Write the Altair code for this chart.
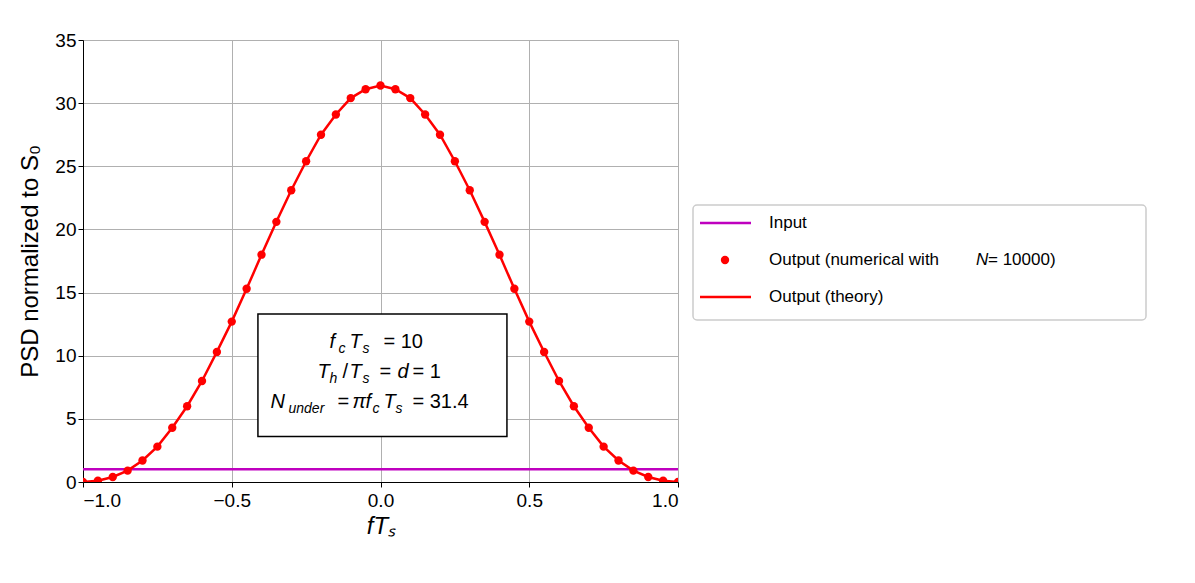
import altair as alt
import pandas as pd

f_vals = [round(-1 + 0.05 * i, 2) for i in range(41)]
half = [31.4, 31.1, 30.4, 29.1, 27.5, 25.4, 23.1, 20.6, 18.0, 15.3, 12.7,
        10.3, 8.0, 6.0, 4.3, 2.8, 1.7, 0.9, 0.4, 0.1, 0.0]
psd_vals = half[::-1] + half[1:]
input_level = 1.0

df = pd.DataFrame({"f": f_vals, "psd": psd_vals})
dinp = pd.DataFrame({"f": [-1.0, 1.0], "psd": [input_level, input_level]})

W, H = 595, 442
xs = alt.Scale(domain=[-1, 1], nice=False)
ys = alt.Scale(domain=[0, 35], nice=False)
FONT = "Liberation Sans"

xax = alt.Axis(values=[-1, -0.5, 0, 0.5, 1], format=".1f", title="fTₛ",
               titleFontStyle="italic", titleFontWeight="normal", titleFontSize=24,
               labelFontSize=19, gridColor="#b0b0b0", tickColor="black",
               domainColor="black", labelColor="black", titleColor="black", labelPadding=4)
yax = alt.Axis(values=list(range(0, 36, 5)), title="PSD normalized to S₀",
               titleFontWeight="normal", titleFontSize=24, labelFontSize=19,
               gridColor="#b0b0b0", tickColor="black", domainColor="black",
               labelColor="black", titleColor="black", titlePadding=12)

base = alt.Chart(df)
inp = alt.Chart(dinp).mark_line(color="#bf00bf", strokeWidth=2.5, clip=True).encode(
    x=alt.X("f:Q", scale=xs, axis=xax), y=alt.Y("psd:Q", scale=ys, axis=yax))
line = base.mark_line(color="red", strokeWidth=2.5, clip=True).encode(x=alt.X("f:Q", scale=xs), y=alt.Y("psd:Q", scale=ys))
pts = base.mark_circle(color="red", size=70, opacity=1, clip=True).encode(x=alt.X("f:Q", scale=xs), y=alt.Y("psd:Q", scale=ys))

box = alt.Chart(pd.DataFrame({"x": [-0.412], "x2": [0.425], "y": [3.6], "y2": [13.3]})).mark_rect(
    fill="white", stroke="black", strokeWidth=1.5).encode(x="x:Q", x2="x2:Q", y="y:Q", y2="y2:Q")

# text pieces: (text, dx, baseline y, subscript?)
pieces = [
    ("f", -51, 10.61, False), ("c", -42, 10.61, True), ("T", -31, 10.61, False), ("s", -18, 10.61, True), ("=  10", 3, 10.61, False),
    ("T", -63, 8.23, False), ("h", -51, 8.23, True), ("/", -38, 8.23, False), ("T", -31, 8.23, False), ("s", -18, 8.23, True),
    ("=", -1, 8.23, False), ("d", 17, 8.23, False), ("=  1", 32, 8.23, False),
    ("N", -110, 5.86, False), ("under", -92, 5.86, True), ("=", -43, 5.86, False), ("π", -28, 5.86, False), ("f", -15, 5.86, False),
    ("c", -8, 5.86, True), ("T", 3, 5.86, False), ("s", 15, 5.86, True), ("=  31.4", 32, 5.86, False),
]
txt_layers = []
for t, dx, yb, sub in pieces:
    italic = t not in ("=  10", "=  1", "=  31.4", "=", "/")
    txt_layers.append(alt.Chart(pd.DataFrame({"x": [0.0], "y": [yb], "t": [t]})).mark_text(
        align="left", baseline="alphabetic", dx=dx, dy=5 if sub else 0,
        fontSize=14 if sub else 20, font=FONT, fontStyle="italic" if italic else "normal", color="black"
    ).encode(x=alt.X("x:Q", scale=xs), y=alt.Y("y:Q", scale=ys), text="t:N"))

main = alt.layer(inp, line, pts, box, *txt_layers).properties(width=W, height=H)

# legend panel
LW = 470
lx = alt.Scale(domain=[0, LW], nice=False)
ly = alt.Scale(domain=[H, 0], nice=False)
lrect = alt.Chart(pd.DataFrame({"x": [8], "x2": [461], "y": [165], "y2": [280]})).mark_rect(
    fill="white", stroke="#cccccc", strokeWidth=1.5, cornerRadius=4).encode(
    x=alt.X("x:Q", scale=lx, axis=None), x2="x2:Q", y=alt.Y("y:Q", scale=ly, axis=None), y2="y2:Q")
leg_lines = pd.DataFrame({"x": [15, 15], "x2": [66, 66], "y": [183, 257], "c": ["#bf00bf", "red"]})
lline = alt.Chart(leg_lines).mark_rule(strokeWidth=2.5).encode(
    x=alt.X("x:Q", scale=lx, axis=None), x2="x2:Q", y=alt.Y("y:Q", scale=ly, axis=None),
    color=alt.Color("c:N", scale=None))
ldot = alt.Chart(pd.DataFrame({"x": [40], "y": [220]})).mark_circle(color="red", size=70, opacity=1).encode(
    x=alt.X("x:Q", scale=lx, axis=None), y=alt.Y("y:Q", scale=ly, axis=None))
leg_txt = pd.DataFrame({
    "x": [84, 84, 303, 84],
    "y": [183, 220, 220, 257],
    "t": ["Input", "Output (numerical with", "=  10000)", "Output (theory)"],
})
ltxt = alt.Chart(leg_txt).mark_text(align="left", baseline="middle", fontSize=17, font=FONT, color="black").encode(
    x=alt.X("x:Q", scale=lx, axis=None), y=alt.Y("y:Q", scale=ly, axis=None), text="t:N")
ltxt_i = alt.Chart(pd.DataFrame({"x": [291], "y": [220], "t": ["N"]})).mark_text(
    align="left", baseline="middle", fontSize=17, font=FONT, fontStyle="italic", color="black").encode(
    x=alt.X("x:Q", scale=lx, axis=None), y=alt.Y("y:Q", scale=ly, axis=None), text="t:N")
legend = alt.layer(lrect, lline, ldot, ltxt, ltxt_i).properties(width=LW, height=H, view=alt.ViewBackground(stroke=None))

chart = alt.hconcat(main, legend, spacing=6).configure_view(stroke="black", strokeWidth=1.5).configure(
    font=FONT).properties(padding={"left": 10, "top": 22, "right": 0, "bottom": 0})

chart.save("out.html", embed_options={"renderer": "svg", "actions": False})
